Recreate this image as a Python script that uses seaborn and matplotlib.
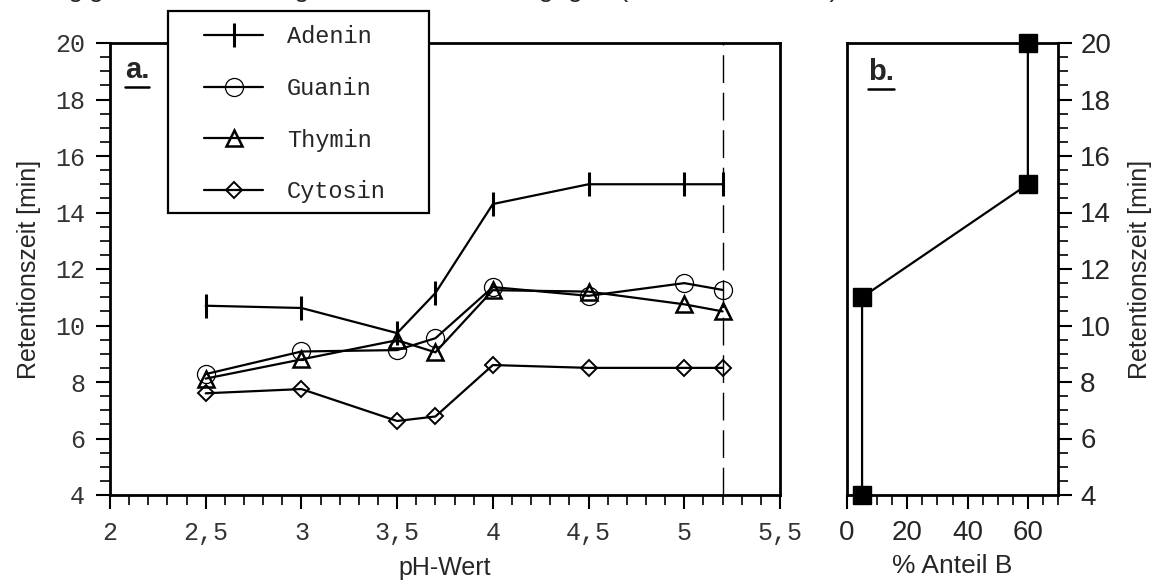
import matplotlib
matplotlib.use("Agg")
import matplotlib.pyplot as plt
import seaborn as sns
import numpy as np
import pandas as pd
from matplotlib.ticker import FixedLocator, MultipleLocator, FixedFormatter
from matplotlib.lines import Line2D
from matplotlib.patches import Rectangle

# ---------------- data ----------------
ph = [2.5, 3.0, 3.5, 3.7, 4.0, 4.5, 5.0, 5.2]
adenin = [10.7, 10.62, 9.73, 11.15, 14.3, 15.0, 15.0, 15.0]
guanin = [8.28, 9.08, 9.13, 9.55, 11.36, 11.05, 11.5, 11.26]
thymin = [8.12, 8.8, 9.48, 9.05, 11.25, 11.2, 10.75, 10.5]
cytosin = [7.6, 7.75, 6.62, 6.78, 8.6, 8.5, 8.5, 8.5]
series_names = ["Adenin", "Guanin", "Thymin", "Cytosin"]

ph_limit = 5.2

x_ticks_a = [2, 2.5, 3, 3.5, 4, 4.5, 5, 5.5]
x_ticklabels_a = ["2", "2,5", "3", "3,5", "4", "4,5", "5", "5,5"]
y_ticks = [4, 6, 8, 10, 12, 14, 16, 18, 20]

anteil_b = [5, 5, 60, 60]
zeit_b = [4, 11, 15, 20]
x_ticks_b = [0, 20, 40, 60]

title_text = "Abhängigkeit der Trennung und Wasser-Anteil gegen (siehe auch Bild b)"

# ---------------- style ----------------
sns.set_style("ticks")
plt.rcParams["font.family"] = ["Liberation Sans", "DejaVu Sans"]

W, H = 1157, 580
fig = plt.figure(figsize=(W / 100, H / 100), dpi=100)

def fx(px):
    return px / W

def fy(py):
    return 1 - py / H

ax = fig.add_axes([fx(110), fy(495), fx(780) - fx(110), fy(43) - fy(495)])
ax2 = fig.add_axes([fx(847), fy(495), fx(1058) - fx(847), fy(43) - fy(495)])

# ---------------- panel a ----------------
df = pd.DataFrame({
    "pH": ph * 4,
    "t": adenin + guanin + thymin + cytosin,
    "Base": sum([[n] * len(ph) for n in series_names], []),
})

marker_kw = {
    "Adenin": dict(marker="|", markersize=17, markeredgewidth=2.2,
                   markerfacecolor="none", markeredgecolor="black"),
    "Guanin": dict(marker="o", markersize=13, markeredgewidth=0.9,
                   markerfacecolor="none", markeredgecolor="black"),
    "Thymin": dict(marker="^", markersize=12, markeredgewidth=1.8,
                   markerfacecolor="none", markeredgecolor="black"),
    "Cytosin": dict(marker="D", markersize=8.5, markeredgewidth=1.4,
                    markerfacecolor="none", markeredgecolor="black"),
}

for name in series_names:
    sub = df[df["Base"] == name]
    sns.lineplot(data=sub, x="pH", y="t", ax=ax, color="black", linewidth=1.6,
                 estimator=None, sort=False, label=name, **marker_kw[name])

ax.axvline(ph_limit, color="black", linewidth=1.0, dashes=(20, 7))

ax.set_xlim(2, 5.5)
ax.set_ylim(4, 20)
ax.xaxis.set_major_locator(FixedLocator(x_ticks_a))
ax.xaxis.set_major_formatter(FixedFormatter(x_ticklabels_a))
ax.xaxis.set_minor_locator(MultipleLocator(0.1))
ax.yaxis.set_major_locator(FixedLocator(y_ticks))
ax.yaxis.set_minor_locator(MultipleLocator(0.5))
ax.tick_params(which="major", direction="out", length=10, width=1.5, color="black")
ax.tick_params(which="minor", direction="out", length=7, width=1.2, color="black")
ax.tick_params(axis="y", pad=8)
ax.tick_params(axis="x", pad=9)
for lab in ax.get_xticklabels() + ax.get_yticklabels():
    lab.set_fontfamily(["Liberation Mono", "DejaVu Sans Mono"])
    lab.set_fontsize(18)
    lab.set_color("#333333")
for sp in ax.spines.values():
    sp.set_visible(True)
    sp.set_linewidth(2.0)
    sp.set_color("black")

ax.set_xlabel("pH-Wert", fontsize=18, labelpad=8)
ax.set_ylabel("Retentionszeit [min]", fontsize=18, labelpad=10)

handles, labels = ax.get_legend_handles_labels()
ax.get_legend().remove()

# legend box (frame drawn separately so the inner padding can match)
fig.add_artist(Rectangle((fx(168), fy(213)), fx(429) - fx(168), fy(11) - fy(213),
                         transform=fig.transFigure, facecolor="white",
                         edgecolor="black", linewidth=1.6, zorder=4.5))
leg = fig.legend(handles, labels, loc="upper left",
                 bbox_to_anchor=(fx(204), fy(25)),
                 prop={"family": ["Liberation Mono", "DejaVu Sans Mono"], "size": 17},
                 frameon=False, borderpad=0.0, borderaxespad=0.0,
                 labelspacing=1.22, handlelength=2.5, handletextpad=1.0)
leg.set_zorder(5)

ta = ax.text(0.022, 0.922, "a.", transform=ax.transAxes, fontsize=21,
             fontweight="bold", ha="left", va="baseline")

# ---------------- panel b ----------------
dfb = pd.DataFrame({"B": anteil_b, "t": zeit_b})
sns.lineplot(data=dfb, x="B", y="t", ax=ax2, color="black", linewidth=1.6,
             estimator=None, sort=False, marker="s", markersize=13,
             markerfacecolor="black", markeredgecolor="black", markeredgewidth=1)
for ln in ax2.get_lines():
    ln.set_clip_on(False)
    ln.set_zorder(3)
ax2.set_xlim(0, 70)
ax2.set_ylim(4, 20)
ax2.xaxis.set_major_locator(FixedLocator(x_ticks_b))
ax2.xaxis.set_minor_locator(MultipleLocator(5))
ax2.yaxis.set_major_locator(FixedLocator(y_ticks))
ax2.yaxis.set_minor_locator(MultipleLocator(0.5))
ax2.yaxis.tick_right()
ax2.yaxis.set_label_position("right")
ax2.tick_params(which="major", direction="out", length=10, width=1.5, color="black",
                labelsize=20)
ax2.tick_params(which="minor", direction="out", length=7, width=1.2, color="black")
ax2.tick_params(axis="y", pad=6)
ax2.tick_params(axis="x", pad=8)
for sp in ax2.spines.values():
    sp.set_visible(True)
    sp.set_linewidth(2.0)
    sp.set_color("black")
    sp.set_zorder(2)
ax2.set_xlabel("% Anteil B", fontsize=19, labelpad=6)
ax2.set_ylabel("Retentionszeit [min]", fontsize=18, labelpad=12)

tb = ax2.text(0.10, 0.918, "b.", transform=ax2.transAxes, fontsize=21,
              fontweight="bold", ha="left", va="baseline")

# clipped caption at the top (only its lower edge is visible, as in the source)
fig.text(fx(-8), fy(-3.0), title_text, fontsize=19, ha="left", va="baseline")

# underline the panel labels
fig.canvas.draw()
r = fig.canvas.get_renderer()
for t in (ta, tb):
    bb = t.get_window_extent(r)
    yline = bb.y0 - 3
    fig.add_artist(Line2D([bb.x0 / W, bb.x1 / W], [yline / H, yline / H],
                          color="black", linewidth=1.8, transform=fig.transFigure))

fig.savefig("out.png", dpi=100)
